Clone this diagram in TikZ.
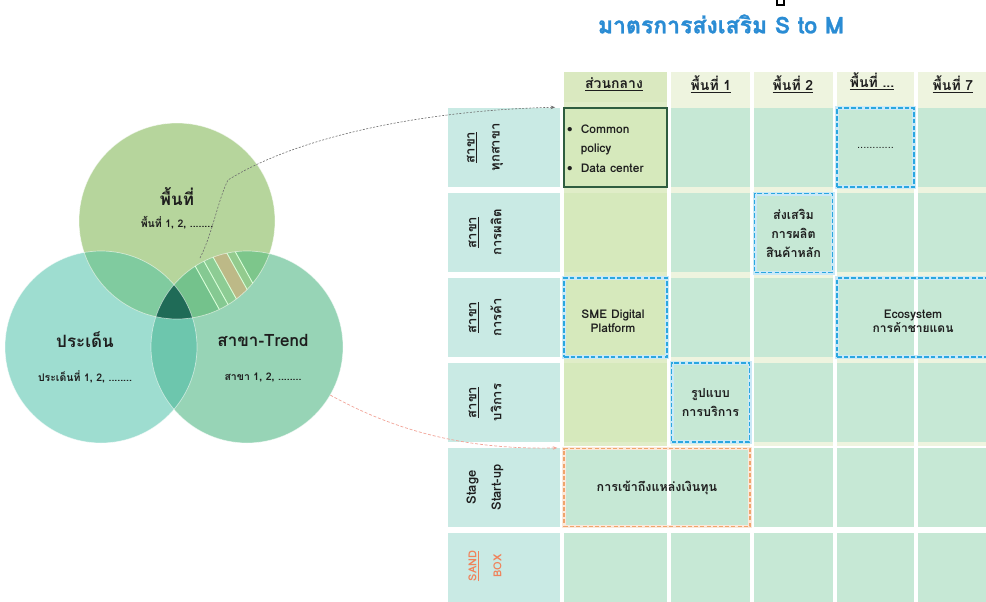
\documentclass[tikz,border=0pt]{standalone}
\usepackage{fontspec}
\setmainfont[Script=Thai]{Loma}
\usetikzlibrary{arrows.meta,calc}

\definecolor{topc}{HTML}{B6D59C}
\definecolor{leftc}{HTML}{9EDDD0}
\definecolor{rightc}{HTML}{97D4B6}
\definecolor{tlc}{HTML}{80CB9F}
\definecolor{lrc}{HTML}{6DC6AD}
\definecolor{core}{HTML}{1F6B57}
\definecolor{strA}{HTML}{74C28C}
\definecolor{strB}{HTML}{85C992}
\definecolor{strC}{HTML}{8DCC94}
\definecolor{strD}{HTML}{BDB987}
\definecolor{strE}{HTML}{93CB8E}
\definecolor{strF}{HTML}{7DC68B}
\definecolor{labc}{HTML}{C9EAE4}
\definecolor{cellc}{HTML}{C6E8D5}
\definecolor{centc}{HTML}{D6E9BC}
\definecolor{centhead}{HTML}{DAE9C0}
\definecolor{centband}{HTML}{E0EDC8}
\definecolor{paleband}{HTML}{EEF4DF}
\definecolor{boxblue}{HTML}{2AA7E0}
\definecolor{boxorange}{HTML}{F0A46C}
\definecolor{darkbox}{HTML}{2F5D40}
\definecolor{titleblue}{HTML}{2A8CD4}
\definecolor{sandc}{HTML}{F0825A}
\definecolor{linkgray}{HTML}{6E6E6E}
\definecolor{linkred}{HTML}{F2A498}
\definecolor{inkc}{HTML}{1E1E1E}

\tikzset{
  venn/.style={circle, inner sep=0pt, minimum size=192pt},
  bigl/.style={font=\fontsize{17}{19}\selectfont\bfseries, text=inkc, inner sep=0pt},
  smalll/.style={font=\fontsize{10.5}{12}\selectfont\bfseries, text=inkc, inner sep=0pt},
  headl/.style={font=\fontsize{14}{16}\selectfont\bfseries, text=inkc, inner sep=0pt},
  rowl/.style={font=\fontsize{13}{25}\selectfont\bfseries, text=inkc, rotate=90, align=center, inner sep=0pt},
  celltext/.style={font=\fontsize{12.5}{19}\selectfont\bfseries, text=inkc, align=center},
  latintext/.style={font=\fontsize{12}{14}\selectfont\bfseries, text=inkc, align=center},
  bluebox/.style={draw=boxblue, line width=1.6pt, dash pattern=on 4.5pt off 2.2pt,
    preaction={draw=boxblue!25, line width=4pt, solid}, inner sep=0pt},
  orangebox/.style={draw=boxorange, line width=1.4pt, dash pattern=on 4pt off 2.2pt,
    preaction={draw=boxorange!25, line width=3.5pt, solid}, inner sep=0pt},
  solidbox/.style={draw=darkbox, line width=1.8pt, inner sep=0pt},
  graylink/.style={draw=linkgray, line width=0.6pt, dash pattern=on 2pt off 1.5pt,
    -{Stealth[length=4.5pt,width=3.5pt]}},
  redlink/.style={draw=linkred, line width=0.7pt, dash pattern=on 3pt off 1.8pt,
    -{Stealth[length=4.5pt,width=3.5pt]}},
}

\begin{document}
\begin{tikzpicture}[x=1pt,y=-1pt]
\fill[white] (0,0) rectangle (986,602);
\useasboundingbox (0,0) rectangle (986,602);

% ---------- Venn diagram ----------
\node[venn, fill=leftc] (circL) at (101,347) {};
\node[venn, fill=rightc] (circR) at (247,347) {};
\node[venn, fill=topc, minimum size=196pt] (circT) at (177,221) {};

% top / left overlap
\begin{scope}
  \clip (177,221) circle (98);
  \fill[tlc] (101,347) circle (96);
\end{scope}
% left / right overlap
\begin{scope}
  \clip (101,347) circle (96);
  \fill[lrc] (247,347) circle (96);
\end{scope}
% top / right overlap, striped
\begin{scope}
  \clip (177,221) circle (98);
  \clip (247,347) circle (96);
  \begin{scope}[shift={(212.7,285.2)}, rotate=29.1]
    \fill[strA] (-90,-100) rectangle (-6,100);
    \fill[strB] (-6,-100) rectangle (4,100);
    \fill[strC] (4,-100) rectangle (14,100);
    \fill[strD] (14,-100) rectangle (28,100);
    \fill[strE] (28,-100) rectangle (36,100);
    \fill[strF] (36,-100) rectangle (90,100);
    \foreach \s in {-6,4,14,28,36}
      \draw[white!85!green, line width=0.9pt] (\s,-100) -- (\s,100);
  \end{scope}
\end{scope}
% centre of all three
\begin{scope}
  \clip (177,221) circle (98);
  \clip (101,347) circle (96);
  \fill[core] (247,347) circle (96);
\end{scope}
% soft white rims
\foreach \c/\r in {{(101,347)}/96, {(247,347)}/96, {(177,221)}/98}
  \draw[white, opacity=0.55, line width=0.7pt] \c circle (\r);

\node[bigl] (tTitle) at (177,197) {พื้นที่};
\node[smalll] (tSub) at (177,223) {พื้นที่ 1, 2, ........};
\node[bigl] (lTitle) at (85,340) {ประเด็น};
\node[smalll] (lSub) at (85,377) {ประเด็นที่ 1, 2, ........};
\node[bigl] (rTitle) at (263,340) {สาขา-Trend};
\node[smalll] (rSub) at (263,377) {สาขา 1, 2, ........};

% ---------- title ----------
\node[font=\fontsize{23}{25}\selectfont\bfseries\addfontfeatures{FakeBold=1.2}, text=titleblue, inner sep=0pt] (title) at (721,24) {มาตรการส่งเสริม S to M};
\draw[black, line width=1.5pt, line cap=round] (777,0) -- (777,5) -- (784,5) -- (784,0);

% ---------- table background ----------
% column bands
\fill[centband] (564,72) rectangle (667,446);
\foreach \a/\b in {671/750, 754/833, 837/914, 918/986}
  \fill[paleband] (\a,72) rectangle (\b,446);
\fill[centhead] (564,72) rectangle (667,102);

% cells
\foreach \t/\b in {108/187, 193/272, 278/357, 363/442, 448/527, 533/602}{
  \fill[labc] (448,\t) rectangle (560,\b);
  \foreach \a/\c in {671/750, 754/833, 837/914, 918/986}
    \fill[cellc] (\a,\t) rectangle (\c,\b);
}
\foreach \t/\b in {108/187, 193/272, 278/357, 363/442}
  \fill[centc] (564,\t) rectangle (667,\b);
\foreach \t/\b in {448/527, 533/602}
  \fill[cellc] (564,\t) rectangle (667,\b);

% column headers
\node[headl] (hCentral) at (614,84) {\underline{ส่วนกลาง}};
\node[headl] (hArea1) at (711,84) {\underline{พื้นที่ 1}};
\node[headl] (hArea2) at (793,84) {\underline{พื้นที่ 2}};
\node[headl] (hAreaN) at (872,81) {\underline{พื้นที่ ...}};
\node[headl] (hArea7) at (953,84) {\underline{พื้นที่ 7}};

% row headers
\node[rowl] (rAll) at (485,147.5) {\underline{สาขา}\\ทุกสาขา};
\node[rowl] (rProd) at (485,232.5) {\underline{สาขา}\\การผลิต};
\node[rowl] (rTrade) at (485,317.5) {\underline{สาขา}\\การค้า};
\node[rowl] (rServ) at (485,402.5) {\underline{สาขา}\\บริการ};
\node[rowl] (rStage) at (485,487.5) {Stage\\Start-up};
\node[rowl, text=sandc, font=\fontsize{11}{25}\selectfont\bfseries] (rSand) at (485,566) {\underline{SAND}\\BOX};

% ---------- measure boxes ----------
\node[solidbox, minimum width=103pt, minimum height=79pt] (polbox) at (615.5,147.5) {};
\node[font=\fontsize{12}{19.5}\selectfont\bfseries, text=inkc, anchor=west, inner sep=0pt] (poltext) at (567,149)
  {\begin{tabular}{@{}l@{\hspace{8pt}}l@{}}\textbullet & Common\\ & policy\\ \textbullet & Data center\end{tabular}};

\node[bluebox, minimum width=77pt, minimum height=79pt] (dotbox) at (875.5,147.5) {};
\node[font=\fontsize{11}{12}\selectfont, text=inkc] (dottext) at (dotbox.center) {............};

\node[bluebox, minimum width=78pt, minimum height=79pt] (prodbox) at (793.5,233) {};
\node[celltext] (prodtext) at (prodbox.center) {ส่งเสริม\\การผลิต\\สินค้าหลัก};

\node[bluebox, minimum width=103pt, minimum height=79pt] (smebox) at (615.5,317.5) {};
\node[latintext] (smetext) at (613,321) {SME Digital\\Platform};

\node[bluebox, minimum width=154pt, minimum height=79pt] (ecobox) at (914,317.5) {};
\node[latintext] (ecotext) at (913,321) {Ecosystem\\การค้าชายแดน};

\node[bluebox, minimum width=78pt, minimum height=79pt] (servbox) at (710.5,402.5) {};
\node[celltext] (servtext) at (servbox.center) {รูปแบบ\\การบริการ};

\node[orangebox, minimum width=186pt, minimum height=78pt] (fundbox) at (657,487.5) {};
\node[celltext] (fundtext) at (fundbox.center) {การเข้าถึงแหล่งเงินทุน};

% ---------- connectors ----------
\coordinate (gsrc) at (200,258);
\coordinate (gbend) at (228,180);
\draw[graylink, shorten >=8pt] (gsrc) .. controls (212,235) and (218,200) .. (gbend)
  .. controls (300,135) and (430,110) .. (polbox.north west);
\draw[redlink, shorten >=6pt] (circR.-30) .. controls (390,428) and (460,450) .. (fundbox.north west);
\end{tikzpicture}
\end{document}
